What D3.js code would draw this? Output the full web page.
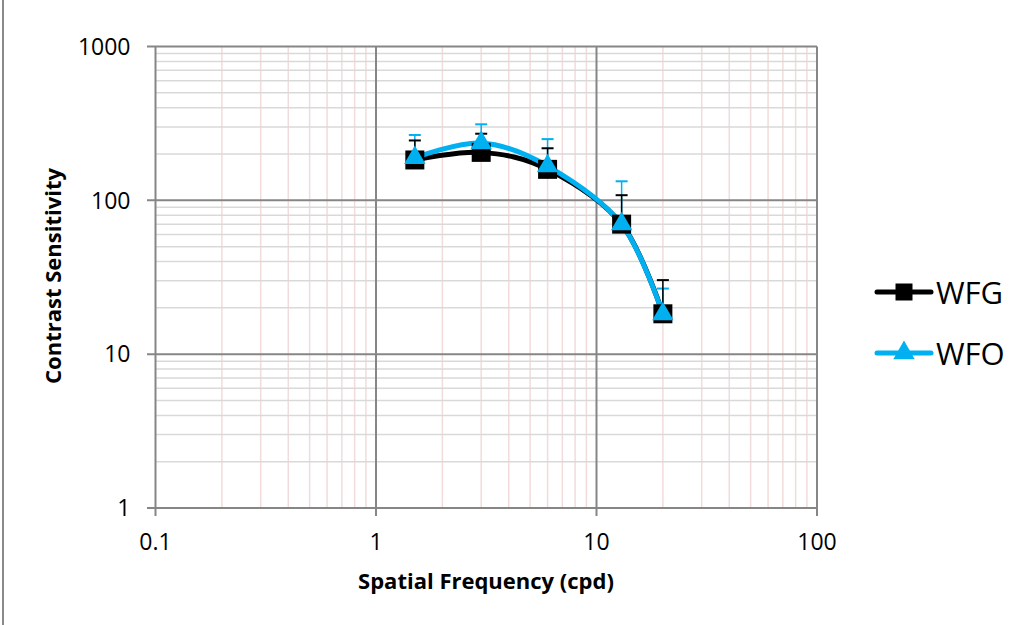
<!DOCTYPE html>
<html><head><meta charset="utf-8">
<script src="https://cdn.jsdelivr.net/npm/d3@7"></script>
<style>body{margin:0;background:#fff}svg{display:block}text{font-family:"Open Sans",sans-serif}</style>
</head><body><svg id="c" width="1028" height="625"></svg>
<script>
const freqs = [1.5, 3, 6, 13, 20];
const wfgValues = [183, 205, 159, 70, 18.3];
const wfgErrors = [62, 66, 59, 38, 12];
const wfoValues = [189, 236, 167, 70, 18.2];
const wfoErrors = [77, 76, 83, 63, 8.5];
const seriesNames = ["WFG", "WFO"];
const xTicks = [0.1, 1, 10, 100];
const yTicks = [1, 10, 100, 1000];
const xTitle = "Spatial Frequency (cpd)";
const yTitle = "Contrast Sensitivity";

const svg = d3.select("#c");
const L = 155.5, R = 817, T = 46.5, B = 508;
const x = d3.scaleLog().domain([0.1, 100]).range([L, R]);
const y = d3.scaleLog().domain([1, 1000]).range([B, T]);

// outer frame fragment
svg.append("line").attr("x1", 3).attr("x2", 3).attr("y1", 0).attr("y2", 625).attr("stroke", "#8a8a8a").attr("stroke-width", 2);

// minor grid values
const minorX = [], minorY = [];
for (let d = 0.1; d < 100; d *= 10) for (let k = 2; k <= 9; k++) minorX.push(d * k);
for (let d = 1; d < 1000; d *= 10) for (let k = 2; k <= 9; k++) minorY.push(d * k);

const g = svg.append("g");
g.selectAll(".mx").data(minorX).join("line")
  .attr("x1", d => x(d)).attr("x2", d => x(d)).attr("y1", T).attr("y2", B)
  .attr("stroke", "#f2dcdb").attr("stroke-width", 1.5);
g.selectAll(".my").data(minorY).join("line")
  .attr("x1", L).attr("x2", R).attr("y1", d => y(d)).attr("y2", d => y(d))
  .attr("stroke", "#d9d9d9").attr("stroke-width", 1.5);
g.selectAll(".Mx").data(xTicks).join("line")
  .attr("x1", d => x(d)).attr("x2", d => x(d)).attr("y1", T).attr("y2", B + 8)
  .attr("stroke", "#868686").attr("stroke-width", 2);
g.selectAll(".My").data(yTicks).join("line")
  .attr("x1", L - 8.5).attr("x2", R).attr("y1", d => y(d)).attr("y2", d => y(d))
  .attr("stroke", "#868686").attr("stroke-width", 2);

// tick labels
svg.selectAll(".yl").data(yTicks).join("text")
  .attr("x", L - 25).attr("y", d => y(d)).attr("dy", "0.36em")
  .attr("text-anchor", "end").attr("font-size", 23).attr("fill", "#000")
  .text(d => d3.format("")(d));
svg.selectAll(".xl").data(xTicks).join("text")
  .attr("x", d => x(d)).attr("y", B + 33.5).attr("dy", "0.36em")
  .attr("text-anchor", "middle").attr("font-size", 23).attr("fill", "#000")
  .text(d => d3.format("")(d));

// titles
svg.append("text").attr("x", 486).attr("y", 581).attr("dy", "0.36em").attr("text-anchor", "middle")
  .attr("font-size", 22).attr("font-weight", "bold").text(xTitle);
svg.append("text").attr("transform", "translate(53,276) rotate(-90)").attr("dy", "0.36em").attr("text-anchor", "middle")
  .attr("font-size", 22).attr("font-weight", "bold").text(yTitle);

const line = d3.line().x(d => x(d[0])).y(d => y(d[1])).curve(d3.curveCatmullRom.alpha(0));
const wfg = freqs.map((f, i) => [f, wfgValues[i], wfgErrors[i]]);
const wfo = freqs.map((f, i) => [f, wfoValues[i], wfoErrors[i]]);
const BLACK = "#000", BLUE = "#00b0f0";

function errBars(data, color) {
  const e = svg.append("g");
  e.selectAll("line.s").data(data).join("line")
    .attr("x1", d => x(d[0])).attr("x2", d => x(d[0]))
    .attr("y1", d => y(d[1])).attr("y2", d => y(d[1] + d[2]))
    .attr("stroke", color).attr("stroke-width", 1.5);
  e.selectAll("line.c").data(data).join("line")
    .attr("x1", d => x(d[0]) - 6).attr("x2", d => x(d[0]) + 6)
    .attr("y1", d => y(d[1] + d[2])).attr("y2", d => y(d[1] + d[2]))
    .attr("stroke", color).attr("stroke-width", 2);
}

svg.append("path").datum(wfg).attr("d", line).attr("fill", "none").attr("stroke", BLACK).attr("stroke-width", 5);
svg.append("path").datum(wfo).attr("d", line).attr("fill", "none").attr("stroke", BLUE).attr("stroke-width", 5);
errBars(wfo, BLUE);
errBars(wfg, BLACK);

const sq = d3.symbol().type(d3.symbolSquare).size(19 * 19);
const tri = d3.symbol().type(d3.symbolTriangle).size(200);
svg.append("g").selectAll("path").data(wfg).join("path")
  .attr("transform", d => `translate(${x(d[0])},${y(d[1])})`).attr("d", sq).attr("fill", BLACK);
svg.append("g").selectAll("path").data(wfo).join("path")
  .attr("transform", d => `translate(${x(d[0])},${y(d[1])})`).attr("d", tri).attr("fill", BLUE);

// legend
const leg = svg.append("g");
const legY = [292, 353];
const legSq = d3.symbol().type(d3.symbolSquare).size(17 * 17);
[[BLACK, legSq], [BLUE, tri]].forEach((s, i) => {
  leg.append("line").attr("x1", 877).attr("x2", 931).attr("y1", legY[i]).attr("y2", legY[i])
    .attr("stroke", s[0]).attr("stroke-width", 5).attr("stroke-linecap", "round");
  leg.append("path").attr("transform", `translate(904,${legY[i]})`).attr("d", s[1]).attr("fill", s[0]);
  leg.append("text").attr("x", 936).attr("y", legY[i] + 1).attr("dy", "0.36em").attr("font-size", 31)
    .attr("fill", "#000").text(seriesNames[i]);
});
</script></body></html>
